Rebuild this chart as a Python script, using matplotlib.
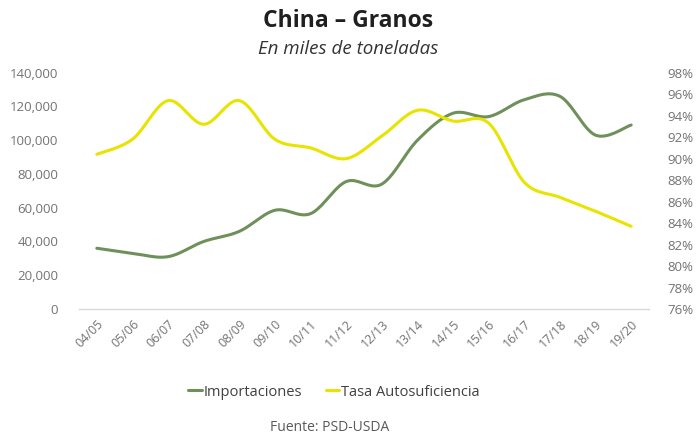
import numpy as np
import matplotlib
matplotlib.use("Agg")
import matplotlib.pyplot as plt
from matplotlib.ticker import FuncFormatter, MultipleLocator

categories = ["04/05", "05/06", "06/07", "07/08", "08/09", "09/10", "10/11", "11/12",
              "12/13", "13/14", "14/15", "15/16", "16/17", "17/18", "18/19", "19/20"]
importaciones = [36000, 33000, 31000, 40000, 46000, 58500, 56500, 75500,
                 74000, 100000, 116000, 114000, 124000, 126000, 103000, 109000]
tasa = [90.4, 91.8, 95.4, 93.2, 95.4, 91.8, 91.0, 90.0,
        92.1, 94.5, 93.5, 93.3, 87.8, 86.4, 85.1, 83.7]

GREEN = "#6F905A"
YELLOW = "#E8E300"
GREY = "#737373"
FONT = ["Open Sans", "DejaVu Sans"]
plt.rcParams["font.family"] = FONT


def smooth(y, n=20):
    """Excel-like smoothed line (Catmull-Rom Bezier through the points)."""
    x = np.arange(len(y), dtype=float)
    y = np.asarray(y, dtype=float)
    xs, ys = [], []
    for i in range(len(y) - 1):
        p0 = (x[max(i - 1, 0)], y[max(i - 1, 0)])
        p1 = (x[i], y[i])
        p2 = (x[i + 1], y[i + 1])
        p3 = (x[min(i + 2, len(y) - 1)], y[min(i + 2, len(y) - 1)])
        c1 = (p1[0] + (p2[0] - p0[0]) / 6, p1[1] + (p2[1] - p0[1]) / 6)
        c2 = (p2[0] - (p3[0] - p1[0]) / 6, p2[1] - (p3[1] - p1[1]) / 6)
        t = np.linspace(0, 1, n, endpoint=(i == len(y) - 2))
        b0 = (1 - t) ** 3
        b1 = 3 * (1 - t) ** 2 * t
        b2 = 3 * (1 - t) * t ** 2
        b3 = t ** 3
        xs.append(b0 * p1[0] + b1 * c1[0] + b2 * c2[0] + b3 * p2[0])
        ys.append(b0 * p1[1] + b1 * c1[1] + b2 * c2[1] + b3 * p2[1])
    return np.concatenate(xs), np.concatenate(ys)


fig = plt.figure(figsize=(6.96, 4.40), dpi=100)
W, H = 696, 440
left, right, top, bottom = 79, 649, 72.7, 309
ax = fig.add_axes([left / W, 1 - bottom / H, (right - left) / W, (bottom - top) / H])
ax2 = ax.twinx()

gx, gy = smooth(importaciones)
l1, = ax.plot(gx, gy, color=GREEN, lw=2.2, solid_capstyle="round", label="Importaciones")
tx, ty = smooth(tasa)
l2, = ax2.plot(tx, np.array(ty) / 100, color=YELLOW, lw=2.2, solid_capstyle="round",
               label="Tasa Autosuficiencia")

ax.set_xlim(-0.5, len(categories) - 0.5)
ax.set_ylim(0, 140000)
ax.yaxis.set_major_locator(MultipleLocator(20000))
ax.yaxis.set_major_formatter(FuncFormatter(lambda v, p: f"{int(v):,}"))
ax2.set_ylim(0.76, 0.98)
ax2.yaxis.set_major_locator(MultipleLocator(0.02))
ax2.yaxis.set_major_formatter(FuncFormatter(lambda v, p: f"{v*100:.0f}%"))

ax.set_xticks(range(len(categories)))
ax.set_xticklabels(categories, rotation=45, ha="right", rotation_mode="anchor")

for a in (ax, ax2):
    for s in a.spines.values():
        s.set_visible(False)
    a.tick_params(length=0, colors=GREY, labelsize=9.5)
ax.spines["bottom"].set_visible(True)
ax.spines["bottom"].set_color("#D9D9D9")
ax.spines["bottom"].set_linewidth(1.0)
ax.tick_params(axis="y", pad=15)
ax2.tick_params(axis="y", pad=13)
ax.tick_params(axis="x", pad=6, labelsize=9)

fig.text(0.5, 1 - 21 / H, "China – Granos", ha="center", va="center",
         fontsize=16.5, fontweight="bold", color="#1F1F1F")
fig.text(0.5, 1 - 49 / H, "En miles de toneladas", ha="center", va="center",
         fontsize=13.5, style="italic", color="#333333")

fig.legend(handles=[l1, l2], loc="center", bbox_to_anchor=(334 / W, 1 - 392 / H),
           ncol=2, frameon=False, fontsize=10.5, handlelength=0.9, handletextpad=0.15,
           columnspacing=1.6, labelcolor="#404040")
fig.text(330 / W, 1 - 427 / H, "Fuente: PSD-USDA", ha="center", va="center",
         fontsize=10, color="#595959")

fig.savefig("out.png", dpi=100)
